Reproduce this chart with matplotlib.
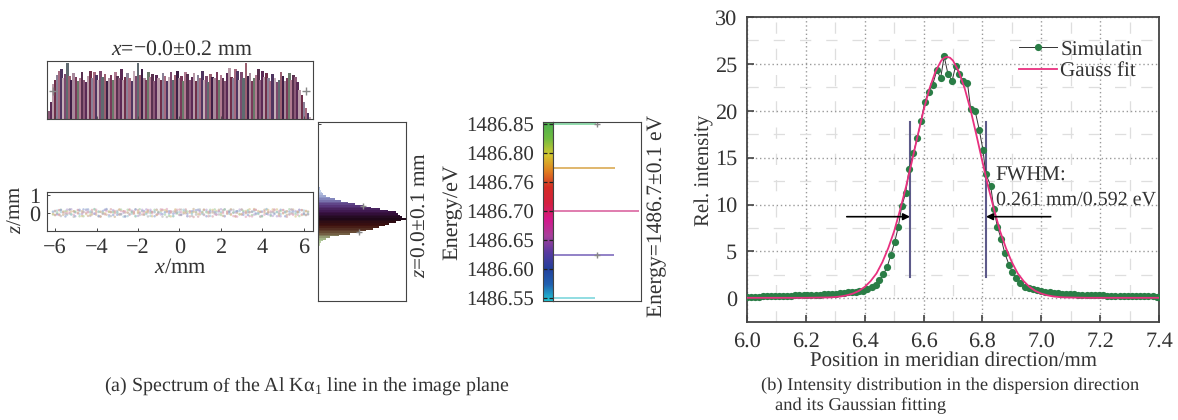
import numpy as np
import matplotlib
matplotlib.use("Agg")
import matplotlib.pyplot as plt
from matplotlib.colors import LinearSegmentedColormap

# panel (a) top histogram, one value per 0.1 mm bin from -6.3 to 6.3
hist_h = [0.14, 0.30, 0.62, 0.70, 0.78, 0.86, 0.88, 0.72, 0.80, 1.00,
          0.76, 0.70, 0.82, 0.74, 0.68, 0.72, 0.84, 0.70, 0.66, 0.76,
          0.85, 0.72, 0.83, 0.78, 0.70, 0.86, 0.74, 0.80, 0.68, 0.72,
          0.78, 0.70, 0.84, 0.76, 0.72, 0.88, 0.70, 0.74, 0.82, 0.72,
          0.68, 0.86, 0.76, 1.00, 0.78, 0.88, 0.72, 0.70, 0.84, 0.74,
          0.80, 0.68, 0.78, 0.72, 0.70, 0.82, 0.76, 0.68, 0.74, 0.84,
          0.70, 0.78, 0.86, 0.72, 0.76, 0.68, 0.84, 0.80, 0.70, 0.74,
          0.82, 0.68, 0.78, 0.72, 0.85, 0.70, 0.76, 0.66, 0.80, 0.74,
          0.72, 0.84, 0.70, 0.78, 0.72, 0.68, 0.82, 0.90, 0.74, 0.72,
          0.88, 0.86, 0.70, 0.84, 0.72, 1.00, 0.76, 0.82, 0.68, 0.72,
          0.78, 0.88, 0.70, 0.86, 0.74, 0.82, 0.72, 0.68, 0.80, 0.72,
          0.66, 0.70, 0.84, 0.76, 0.68, 0.72, 0.82, 0.70, 0.78, 0.74,
          0.66, 0.52, 0.42, 0.30, 0.20, 0.10, 0.04]
hist_x = np.arange(len(hist_h)) * 0.1 - 6.3
hist_cols = ['#8b5a78', '#5a2a55', '#b89aa8', '#6f2f4a', '#8a8096', '#a56a80', '#4f3560',
             '#c4aeb8', '#7d4a6e', '#5f6a70', '#9a5f70', '#3e1f45', '#a88a9c', '#7a3a5a',
             '#6a7a6a', '#b07a90', '#59304f']
hist_cross_x = [-6.12, 6.12]
hist_cross_y = [0.5, 0.5]

# panel (a) strip of image points
strip_x = [-6.1, -6.0, -5.9, -5.8, -5.72, -5.61, -5.5, -5.42, -5.3, -5.22, -5.1, -5.03, -4.9, -4.82, -4.7, -4.63, -4.5,
           -4.41, -4.3, -4.22, -4.1, -4.02, -3.9, -3.81, -3.7, -3.6, -3.52, -3.4, -3.31, -3.2, -3.12, -3.0,
           -2.9, -2.82, -2.7, -2.62, -2.5, -2.41, -2.3, -2.2, -2.12, -2.0, -1.92, -1.8, -1.71, -1.6, -1.52,
           -1.4, -1.32, -1.2, -1.1, -1.02, -0.9, -0.82, -0.7, -0.61, -0.5, -0.42, -0.3, -0.2, -0.12, 0.0,
           0.08, 0.2, 0.3, 0.38, 0.5, 0.6, 0.68, 0.8, 0.9, 0.98, 1.1, 1.18, 1.3, 1.4, 1.48,
           1.6, 1.7, 1.78, 1.9, 2.0, 2.1, 2.18, 2.3, 2.4, 2.48, 2.6, 2.7, 2.78, 2.9, 3.0,
           3.08, 3.2, 3.3, 3.38, 3.5, 3.6, 3.68, 3.8, 3.9, 3.98, 4.1, 4.2, 4.28, 4.4, 4.5,
           4.58, 4.7, 4.8, 4.88, 5.0, 5.1, 5.18, 5.3, 5.4, 5.48, 5.6, 5.7, 5.78, 5.9, 6.0, 6.1, 6.2]
strip_z1 = [0.06, -0.1, 0.14, -0.08, 0.18, 0.02, -0.19, 0.09, -0.03, 0.21, -0.1, 0.05, 0.16, -0.18, 0.0, 0.2, -0.06,
            0.08, -0.16, 0.03, 0.22, -0.09, 0.06, -0.2, 0.11, -0.02, 0.18, -0.11, 0.04, 0.09, -0.21, 0.01,
            0.19, -0.07, 0.1, -0.17, 0.02, 0.21, -0.04, 0.07, -0.19, 0.16, -0.01, 0.09, -0.1, 0.2, 0.03,
            -0.16, 0.06, 0.18, -0.08, 0.0, 0.11, -0.2, 0.05, 0.22, -0.05, 0.08, -0.17, 0.13, 0.01, -0.09,
            0.19, -0.03, 0.07, -0.18, 0.1, 0.02, -0.22, 0.16, -0.06, 0.2, 0.04, -0.11, 0.09, -0.02, 0.18,
            -0.19, 0.06, 0.11, -0.08, 0.21, 0.0, -0.16, 0.08, 0.13, -0.05, 0.03, -0.2, 0.1, 0.19, -0.09,
            0.05, -0.01, 0.16, -0.17, 0.07, 0.22, -0.07, 0.02, -0.19, 0.09, 0.18, -0.04, 0.06, -0.11, 0.2,
            0.01, -0.18, 0.1, -0.06, 0.17, 0.04, -0.21, 0.08, 0.19, -0.03, 0.11, -0.1, 0.05, 0.16, -0.08, 0.1, -0.05]
strip_z2 = [-0.08, 0.12, -0.05, 0.16, -0.17, 0.07, 0.03, -0.1, 0.19, -0.06, 0.09, -0.18, 0.01, 0.11, -0.08, 0.05, 0.2,
            -0.16, 0.02, 0.17, -0.04, 0.1, -0.19, 0.06, -0.02, 0.18, -0.09, 0.08, 0.21, -0.11, 0.04, 0.12,
            -0.06, 0.1, -0.2, 0.03, 0.18, -0.1, 0.07, -0.03, 0.2, -0.16, 0.05, 0.11, -0.07, 0.0, 0.17,
            0.09, -0.18, 0.04, 0.19, -0.05, 0.02, 0.16, -0.09, 0.06, 0.1, -0.19, 0.08, -0.01, 0.18, 0.05,
            -0.11, 0.09, 0.2, -0.04, 0.02, -0.16, 0.11, 0.03, 0.19, -0.08, 0.07, 0.17, -0.18, 0.06, 0.0,
            0.1, -0.06, 0.04, 0.18, -0.11, 0.08, 0.2, -0.02, 0.05, 0.16, -0.17, 0.09, 0.01, -0.07, 0.19,
            -0.1, 0.11, 0.03, 0.06, -0.19, 0.1, 0.17, -0.05, 0.07, -0.16, 0.02, 0.2, -0.08, 0.09, 0.04,
            0.16, 0.06, -0.17, 0.18, -0.02, 0.08, 0.1, -0.09, 0.03, 0.19, -0.06, 0.07, 0.17, -0.11, 0.02, -0.12, 0.08]
strip_cols = ['#b9a6d6', '#e0a3c0', '#9fc7d8', '#c9b08f', '#a6cfa0', '#d6a0a8', '#8f9fd0', '#d9c48a', '#b5b5b5']

# panel (a) side histogram, fraction of peak per 0.015 mm bin, bottom to top
side_h = [0.012, 0.014, 0.014, 0.016, 0.016, 0.02, 0.025, 0.03, 0.055, 0.09, 0.14, 0.24, 0.36, 0.47, 0.55,
          0.62, 0.69, 0.76, 0.81, 0.89, 0.94, 1.0, 0.96, 0.93, 0.91, 0.89, 0.80, 0.70, 0.60, 0.51,
          0.42, 0.34, 0.26, 0.19, 0.14, 0.09, 0.06, 0.04, 0.03, 0.02, 0.018, 0.016, 0.014]
side_z = np.arange(len(side_h)) * 0.015 - 0.315
side_cross_x = [0.51, 0.47]
side_cross_z = [0.12, -0.12]

# panel (a) energy histogram
energy = [1486.85, 1486.775, 1486.70, 1486.624, 1486.55]
energy_h = [0.49, 0.70, 0.98, 0.69, 0.48]
energy_cols = ['#93dcae', '#e0b870', '#e07fb0', '#9484c8', '#93dde2']
energy_ticks = [1486.55, 1486.60, 1486.65, 1486.70, 1486.75, 1486.80, 1486.85]
energy_labels = ['1486.55', '1486.60', '1486.65', '1486.70', '1486.76', '1486.80', '1486.85']
energy_cross_x = [0.50, 0.50]
energy_cross_y = [1486.85, 1486.624]

# panel (b)
sim_x = [6.000, 6.014, 6.027, 6.041, 6.055, 6.068, 6.082, 6.096, 6.110, 6.123, 6.137,
         6.151, 6.164, 6.178, 6.192, 6.205, 6.219, 6.233, 6.247, 6.260, 6.274, 6.288,
         6.301, 6.315, 6.329, 6.342, 6.356, 6.370, 6.381, 6.393, 6.409, 6.425, 6.437,
         6.450, 6.463, 6.476, 6.489, 6.502, 6.514, 6.526, 6.539, 6.551, 6.565, 6.579,
         6.591, 6.604, 6.617, 6.631, 6.645, 6.658, 6.670, 6.683, 6.697, 6.709, 6.721,
         6.735, 6.749, 6.760, 6.775, 6.789, 6.802, 6.811, 6.828, 6.839, 6.851, 6.864,
         6.876, 6.890, 6.902, 6.914, 6.928, 6.945, 6.958, 6.972, 6.986, 7.000, 7.014,
         7.028, 7.042, 7.056, 7.070, 7.084, 7.098, 7.112, 7.126, 7.140, 7.154, 7.168,
         7.182, 7.196, 7.210, 7.224, 7.238, 7.252, 7.266, 7.280, 7.294, 7.308, 7.322,
         7.336, 7.350, 7.364, 7.378, 7.392, 7.400]
sim_y = [0.15, 0.15, 0.18, 0.18, 0.20, 0.20, 0.22, 0.22, 0.25, 0.25, 0.27,
         0.27, 0.30, 0.30, 0.32, 0.33, 0.35, 0.37, 0.40, 0.42, 0.45, 0.47,
         0.50, 0.55, 0.58, 0.62, 0.67, 0.72, 0.76, 0.81, 0.96, 1.17, 1.40,
         1.90, 2.55, 3.30, 4.65, 6.00, 7.60, 9.85, 11.2, 13.8, 15.5, 17.1,
         18.9, 20.9, 22.05, 22.8, 24.3, 23.5, 25.8, 23.9, 23.2, 24.8, 23.9,
         23.2, 23.0, 20.2, 20.0, 18.0, 15.8, 13.3, 12.0, 9.5, 7.6, 6.3,
         4.8, 3.6, 2.8, 2.15, 1.6, 1.2, 1.05, 0.95, 0.85, 0.78, 0.70,
         0.65, 0.60, 0.55, 0.50, 0.47, 0.45, 0.42, 0.40, 0.38, 0.36, 0.34,
         0.33, 0.31, 0.30, 0.28, 0.27, 0.26, 0.25, 0.24, 0.23, 0.22, 0.22,
         0.21, 0.20, 0.20, 0.19, 0.18, 0.18]
fit_x = [6.00, 6.10, 6.20, 6.28, 6.30, 6.32, 6.34, 6.36, 6.38, 6.40, 6.42, 6.44, 6.46, 6.48, 6.50,
         6.52, 6.54, 6.56, 6.58, 6.60, 6.62, 6.64, 6.66, 6.67, 6.68, 6.69, 6.70, 6.72, 6.74, 6.76,
         6.78, 6.80, 6.82, 6.84, 6.86, 6.88, 6.90, 6.92, 6.94, 6.96, 6.98, 7.00, 7.02, 7.04, 7.06,
         7.08, 7.16, 7.30, 7.40]
fit_y = [0.05, 0.05, 0.05, 0.09, 0.13, 0.20, 0.32, 0.50, 0.78, 1.21, 1.83, 2.65, 3.85, 5.35, 7.15,
         9.40, 11.85, 14.55, 17.35, 20.05, 22.35, 24.15, 25.35, 25.65, 25.75, 25.65, 25.35, 24.15, 22.35, 20.05,
         17.35, 14.55, 11.85, 9.40, 7.15, 5.35, 3.85, 2.65, 1.83, 1.21, 0.78, 0.50, 0.32, 0.20, 0.13,
         0.09, 0.05, 0.05, 0.05]
fwhm_x = [6.554, 6.812]

plt.rcParams['font.family'] = ['Liberation Serif', 'DejaVu Serif']
plt.rcParams['mathtext.fontset'] = 'custom'
plt.rcParams['mathtext.rm'] = 'Liberation Serif'
plt.rcParams['mathtext.it'] = 'Liberation Serif:italic'
plt.rcParams['text.hinting'] = 'none'
plt.rcParams['text.color'] = '#333333'
plt.rcParams['axes.labelcolor'] = '#333333'
plt.rcParams['axes.edgecolor'] = '#444444'
plt.rcParams['xtick.color'] = '#444444'
plt.rcParams['ytick.color'] = '#444444'
plt.rcParams['xtick.labelcolor'] = '#333333'
plt.rcParams['ytick.labelcolor'] = '#333333'

W, H = 1178.0, 420.0
fig = plt.figure(figsize=(W / 100, H / 100), dpi=100)


def box(x0, y0, x1, y1):
    # pixel box, y from the top of the picture
    return fig.add_axes([x0 / W, 1 - y1 / H, (x1 - x0) / W, (y1 - y0) / H])


def label(x, y, s, size, rot=0, ha='center'):
    fig.text(x / W, 1 - y / H, s, fontsize=size, rotation=rot, ha=ha, va='center')


# top histogram
ax = box(47, 61, 313, 119)
ax.bar(hist_x, hist_h, width=0.125, color=[hist_cols[i % len(hist_cols)] for i in range(len(hist_h))], linewidth=0)
ax.plot(hist_cross_x, hist_cross_y, '+', color='#888888', ms=6)
ax.set_xlim(-6.39, 6.44)
ax.set_ylim(0, 1.03)
ax.set_xticks([-6, -4, -2, 0, 2, 4, 6])
ax.set_yticks([])
ax.tick_params(axis='x', direction='in', length=2, labelbottom=False, width=0.6)

# point strip
ax = box(47, 192, 313, 231)
for zs, off in ((strip_z1, 0), (strip_z2, 4), (strip_z1[::-1], 7), (strip_z2[::-1], 2)):
    cols = [strip_cols[(i + off) % len(strip_cols)] for i in range(len(zs))]
    ax.scatter(strip_x, zs, s=3.2, c=cols, linewidths=0, alpha=0.6)
ax.set_xlim(-6.39, 6.44)
ax.set_ylim(-1.0, 1.17)
ax.set_xticks([-6, -4, -2, 0, 2, 4, 6])
ax.set_yticks([0, 1])
ax.tick_params(direction='in', length=2.5, width=0.7, labelsize=16, pad=5)
ax.set_xlabel('$x$/mm', fontsize=16, labelpad=0)
label(17, 210, '$z$/mm', 15, rot=90)

# side histogram
side_cmap = LinearSegmentedColormap.from_list('side', ['#c8b48a', '#d4e6c4', '#a8c090', '#6a5038', '#40120f',
                                                       '#1e0818', '#3a1245', '#5a3a80', '#8890c4', '#c8d6ec', '#8aa0d0'])
ax = box(318, 122, 406, 301)
ax.barh(side_z, side_h, height=0.0155, linewidth=0,
        color=side_cmap((side_z - side_z[0]) / (side_z[-1] - side_z[0])))
ax.plot(side_cross_x, side_cross_z, '+', color='#888888', ms=5)
ax.set_xlim(0, 1.0)
ax.set_ylim(-0.745, 0.88)
ax.set_xticks([])
ax.set_yticks([0.86])
ax.tick_params(axis='y', direction='in', length=2.5, labelleft=False, width=0.7)
label(421, 215, '$z$=0.0±0.1 mm', 15.4, rot=90)

# energy colour strip
rainbow = LinearSegmentedColormap.from_list('energy', ['#20c4d4', '#2060b0', '#24409c', '#5a3aa0', '#a8409c', '#d4188c',
                                                       '#d42040', '#d42c24', '#e08020', '#d4c830', '#70bc40', '#4cb050'])
ax = box(542.5, 122.3, 552.7, 301)
ax.imshow(np.linspace(1, 0, 256).reshape(-1, 1), cmap=rainbow, aspect='auto', extent=[0, 1, 1486.545, 1486.853])
ax.set_xticks([])
ax.set_ylim(1486.545, 1486.853)
ax.set_yticks(energy_ticks)
ax.set_yticklabels(energy_labels)
ax.tick_params(axis='y', direction='in', length=3, width=0.9, color='#222222', labelsize=15, pad=6)
ax.tick_params(axis='y', which='both', right=True)
label(452, 212, 'Energy/eV', 16, rot=90)

# energy histogram
ax = box(552.7, 122.3, 641, 301)
ax.barh(energy, energy_h, height=0.0036, color=energy_cols, linewidth=0)
ax.plot(energy_cross_x, energy_cross_y, '+', color='#888888', ms=5)
ax.set_xlim(0, 1.0)
ax.set_ylim(1486.545, 1486.853)
ax.set_xticks([])
ax.set_yticks([])
label(657, 216, 'Energy=1486.7±0.1 eV', 15.5, rot=90)

# panel (b)
ax = box(747, 17, 1159, 321.7)
ax.plot(sim_x, sim_y, '-', color='#333333', lw=0.7, marker='o', ms=5.2, mfc='#2a7d46', mec='#2a7d46', mew=0,
        label='Simulatin', zorder=3)
ax.plot(fit_x, fit_y, '-', color='#e8307f', lw=1.3, label='Gauss fit', zorder=4)
for x in fwhm_x:
    ax.plot([x, x], [2.3, 18.85], color='#5d5a8a', lw=1.5, zorder=2)
ax.annotate('', xy=(fwhm_x[0], 8.7), xytext=(6.339, 8.7),
            arrowprops=dict(arrowstyle='-|>', color='black', lw=1.2, mutation_scale=10, shrinkA=0, shrinkB=0), zorder=5)
ax.annotate('', xy=(fwhm_x[1], 8.7), xytext=(7.032, 8.7),
            arrowprops=dict(arrowstyle='-|>', color='black', lw=1.2, mutation_scale=10, shrinkA=0, shrinkB=0), zorder=5)
ax.text(6.845, 13.1, 'FWHM:', fontsize=15, va='center')
ax.text(6.845, 10.5, '0.261 mm/0.592 eV', fontsize=14.4, va='center')
ax.set_xlim(6.0, 7.4)
ax.set_ylim(-2.5, 30)
ax.set_xticks(np.arange(6.0, 7.41, 0.2))
ax.set_yticks(np.arange(0, 31, 5))
ax.set_xticks(np.arange(6.1, 7.4, 0.2), minor=True)
ax.set_yticks(np.arange(2.5, 30, 5), minor=True)
ax.grid(True, which='major', color='#999999', ls=(0, (1, 2)), lw=1.0)
ax.grid(True, which='minor', color='#dedede', ls=(0, (9, 12)), lw=0.9)
ax.set_axisbelow(True)
ax.tick_params(which='major', direction='in', length=5, width=1.2, labelsize=16, pad=7)
ax.tick_params(which='minor', length=0)
for sp in ax.spines.values():
    sp.set_linewidth(1.3)
ax.set_xlabel('Position in meridian direction/mm', fontsize=15, labelpad=0)
label(704, 170, 'Rel. intensity', 15, rot=90)
ax.legend(loc='upper left', bbox_to_anchor=(0.66, 0.925), frameon=False, fontsize=15.2, handlelength=1.8,
          handletextpad=0.15, labelspacing=0.1, borderpad=0, borderaxespad=0)

label(104, 387, '(a) Spectrum of the Al Kα$_1$ line in the image plane', 14.4, ha='left')
label(761, 386, '(b) Intensity distribution in the dispersion direction', 13.3, ha='left')
label(775, 406, 'and its Gaussian fitting', 13.3, ha='left')
label(182, 49, '$x$=−0.0±0.2 mm', 15.7)

fig.savefig('out.png', dpi=100)
